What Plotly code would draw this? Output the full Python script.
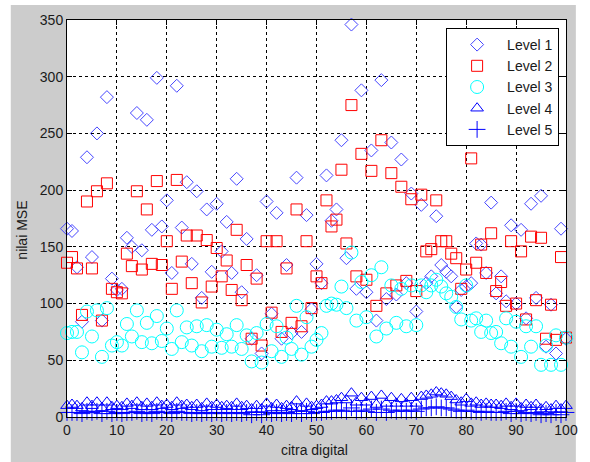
import plotly.graph_objects as go

# image index (citra digital)
citra = list(range(0, 101))

# MSE per decomposition level
level1 = [166, 164, 132, 84, 229, 141, 250, 85, 282, 122,
          112, 113, 158, 150, 268, 147, 262, 165, 299, 168,
          191, 127, 292, 167, 207, 135, 199, 105, 183, 128,
          188, 146, 172, 127, 210, 110, 157, 69, 125, 56,
          190, 91, 180, 69, 134, 74, 211, 75, 178, 95,
          135, 118, 213, 173, 183, 244, 140, 346, 113, 288,
          110, 235, 85, 297, 104, 242, 108, 227, 118, 197,
          93, 187, 118, 124, 177, 134, 128, 124, 97, 112,
          115, 118, 153, 152, 127, 189, 109, 124, 102, 169,
          100, 165, 87, 188, 105, 195, 62, 99, 56, 166, 69]

level2 = [136, 141, 131, 90, 190, 131, 199, 85, 206, 113,
          110, 109, 144, 133, 199, 130, 183, 135, 208, 134,
          155, 113, 209, 137, 160, 118, 160, 101, 156, 115,
          149, 124, 138, 112, 165, 103, 134, 69, 122, 63,
          155, 92, 155, 75, 131, 83, 183, 80, 155, 96,
          124, 118, 191, 168, 174, 218, 153, 275, 124, 232,
          121, 217, 98, 244, 109, 215, 116, 203, 120, 192,
          111, 196, 146, 148, 191, 155, 155, 144, 140, 113,
          130, 228, 136, 152, 127, 162, 111, 119, 98, 155,
          100, 146, 86, 159, 103, 158, 69, 99, 68, 141, 70]

level3 = [74, 75, 75, 57, 93, 71, 94, 53, 96, 63,
          66, 63, 82, 71, 94, 66, 83, 65, 89, 67,
          78, 60, 94, 66, 79, 63, 80, 58, 81, 62,
          77, 61, 73, 62, 81, 60, 72, 49, 74, 48,
          82, 58, 80, 53, 70, 60, 98, 55, 88, 62,
          68, 74, 98, 100, 99, 115, 96, 145, 85, 119,
          88, 125, 71, 132, 78, 116, 83, 113, 80, 116,
          81, 116, 110, 116, 121, 115, 109, 106, 97, 86,
          116, 85, 87, 75, 85, 74, 75, 65, 87, 62,
          84, 53, 80, 62, 80, 46, 63, 46, 72, 46, 70]

level4 = [10, 11, 10, 8, 13, 10, 13, 8, 13, 9,
          10, 9, 12, 10, 13, 9, 12, 9, 13, 10,
          11, 9, 13, 10, 11, 9, 11, 8, 12, 9,
          11, 9, 10, 9, 12, 9, 10, 7, 10, 7,
          12, 8, 11, 8, 10, 9, 14, 8, 12, 9,
          10, 11, 14, 14, 15, 17, 15, 21, 13, 17,
          13, 18, 11, 19, 12, 17, 12, 16, 12, 17,
          12, 18, 19, 20, 22, 21, 20, 18, 15, 13,
          16, 12, 13, 11, 12, 11, 11, 10, 12, 9,
          12, 8, 11, 9, 11, 7, 9, 7, 10, 7, 10]

level5 = [4, 4, 4, 3, 5, 4, 5, 3, 5, 3,
          4, 3, 4, 4, 5, 3, 4, 3, 5, 4,
          4, 3, 5, 4, 4, 3, 4, 3, 4, 3,
          4, 3, 4, 3, 4, 3, 4, 2, 4, 2,
          4, 3, 4, 3, 4, 3, 5, 3, 5, 3,
          4, 4, 5, 5, 6, 6, 5, 8, 5, 6,
          5, 7, 4, 7, 4, 6, 5, 6, 5, 6,
          5, 7, 8, 8, 9, 8, 8, 7, 6, 5,
          6, 5, 5, 4, 5, 4, 4, 4, 5, 3,
          5, 3, 4, 3, 4, 2, 3, 2, 4, 2, 4]

names = ["Level 1", "Level 2", "Level 3", "Level 4", "Level 5"]
x_ticks = list(range(0, 101, 10))
y_ticks = list(range(0, 351, 50))

FONT = "Liberation Sans, Arial, Helvetica, sans-serif"

series = [
    (level1, "diamond-open", 10, "rgb(70,70,255)"),
    (level2, "square-open", 11, "rgb(255,0,0)"),
    (level3, "circle-open", 13, "rgb(0,255,255)"),
    (level4, "triangle-up-open", 11, "rgb(0,0,255)"),
    (level5, "cross-thin-open", 12, "rgb(0,0,255)"),
]

fig = go.Figure()
for (vals, sym, size, col), name in zip(series, names):
    fig.add_trace(go.Scatter(
        x=citra, y=vals, mode="markers", name=name,
        marker=dict(symbol=sym, size=size, color=col,
                    line=dict(color=col, width=1)),
        cliponaxis=False,
    ))

axis_common = dict(
    showline=True, linecolor="black", linewidth=1, mirror="ticks",
    ticks="inside", ticklen=5, tickcolor="black",
    showgrid=True, gridcolor="black", gridwidth=1, griddash="3px,3px",
    zeroline=False,
    tickfont=dict(family=FONT, size=14, color="#1a1a1a"),
)

fig.update_xaxes(range=[0, 100], tickvals=x_ticks, **axis_common)
fig.update_yaxes(range=[0, 350], tickvals=y_ticks, **axis_common)

# plot area: x 67..573, y 20..417 in a 590x462 page
L, R, T, B = 67, 17, 20, 45
W, H = 590, 462
pw, ph = W - L - R, H - T - B

def px_x(p):
    return (p - L) / pw

def px_y(p):
    return (H - B - p) / ph

fig.update_layout(
    width=W, height=H,
    margin=dict(l=L, r=R, t=T, b=B, pad=0),
    paper_bgcolor="white", plot_bgcolor="white",
    font=dict(family=FONT, size=14, color="#1a1a1a"),
    showlegend=True,
    legend=dict(
        x=px_x(566), y=px_y(28), xanchor="right", yanchor="top",
        bgcolor="white", bordercolor="black", borderwidth=1,
        itemwidth=50, font=dict(family=FONT, size=14, color="#1a1a1a"),
    ),
    shapes=[
        # grey figure background
        dict(type="rect", xref="paper", yref="paper", layer="below",
             x0=px_x(10), x1=px_x(583), y0=px_y(462), y1=px_y(5),
             fillcolor="#cccccc", line=dict(width=0)),
        # white axes area
        dict(type="rect", xref="paper", yref="paper", layer="below",
             x0=0, x1=1, y0=0, y1=1,
             fillcolor="white", line=dict(width=0)),
    ],
    annotations=[
        dict(text="nilai MSE", xref="paper", yref="paper",
             x=px_x(21), y=px_y(230), textangle=-90, showarrow=False,
             xanchor="center", yanchor="middle",
             font=dict(family=FONT, size=14, color="#1a1a1a")),
        dict(text="citra digital", xref="paper", yref="paper",
             x=px_x(318), y=px_y(450), showarrow=False,
             xanchor="center", yanchor="middle",
             font=dict(family=FONT, size=14, color="#1a1a1a")),
    ],
)

fig.write_html("out.html")
